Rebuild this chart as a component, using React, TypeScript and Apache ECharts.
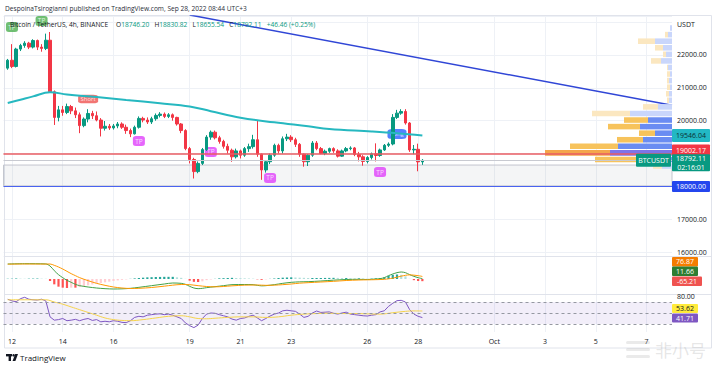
import React, { useEffect, useRef } from "react";
import * as echarts from "echarts";

const FONT = '"Open Sans", "Noto Sans", sans-serif';

// ---- categories: 4h slots (UTC+3) ----
const SLOT_COUNT = 159;
const firstSlotTime = Date.UTC(2022, 8, 11, 19);
const pad = (n: number) => String(n).padStart(2, "0");
const slots = Array.from({ length: SLOT_COUNT }, (_, s) => {
  const d = new Date(firstSlotTime + s * 4 * 3600 * 1000);
  return `${pad(d.getUTCMonth() + 1)}-${pad(d.getUTCDate())} ${pad(d.getUTCHours())}:00`;
});
const tickTimes = ["09-12 03:00", "09-14 03:00", "09-16 03:00", "09-19 03:00", "09-21 03:00", "09-23 03:00", "09-26 03:00", "09-28 03:00", "10-01 03:00", "10-03 03:00", "10-05 03:00", "10-07 03:00"];
const tickTexts = ["12", "14", "16", "19", "21", "23", "26", "28", "Oct", "3", "5", "7"];

// ---- candles [open, close, low, high], first candle = 09-11 23:00 (slot 1) ----
const candles: number[][] = [
  [21600, 21840, 21550, 21880], [21840, 21650, 21600, 22330], [21650, 22180, 21620, 22220], [22180, 22290, 22120, 22340],
  [22290, 22360, 22220, 22420], [22360, 22240, 22180, 22400], [22240, 22440, 22200, 22480], [22440, 22240, 22150, 22470],
  [22240, 22200, 22100, 22330], [22200, 22450, 22150, 22650], [22450, 20880, 20850, 22700], [20880, 20100, 19870, 20920],
  [20100, 20330, 19980, 20450], [20330, 20250, 20150, 20450], [20250, 20430, 20200, 20520], [20430, 20300, 20200, 20480],
  [20300, 20180, 20080, 20400], [20180, 19850, 19620, 20250], [19850, 20050, 19800, 20100], [20050, 20220, 19950, 20350],
  [20220, 20150, 20050, 20300], [20150, 20020, 19980, 20280], [20020, 19770, 19520, 20080], [19770, 19830, 19700, 19990],
  [19830, 19780, 19720, 19900], [19780, 19840, 19730, 19900], [19840, 19900, 19770, 19960], [19900, 19800, 19750, 19950],
  [19800, 19700, 19600, 19880], [19700, 19600, 19500, 19760], [19600, 19800, 19580, 19850], [19800, 20070, 19760, 20130],
  [20070, 20020, 19950, 20120], [20020, 19960, 19900, 20100], [19960, 20060, 19900, 20120], [20060, 20160, 20000, 20220],
  [20160, 20200, 20100, 20260], [20200, 20130, 20080, 20250], [20130, 20180, 20080, 20230], [20180, 20100, 20000, 20220],
  [20100, 19900, 19850, 20120], [19900, 19700, 19620, 19930], [19700, 19150, 19100, 19740], [19150, 18820, 18700, 19200],
  [18820, 18450, 18240, 18870], [18450, 18700, 18400, 18760], [18700, 19120, 18650, 19170], [19120, 19500, 19080, 19560],
  [19500, 19650, 19420, 19700], [19650, 19480, 19430, 19700], [19480, 19370, 19300, 19540], [19370, 19220, 19150, 19420],
  [19220, 19100, 19000, 19300], [19100, 18900, 18750, 19150], [18900, 19080, 18850, 19150], [19080, 18950, 18850, 19120],
  [18950, 19150, 18900, 19200], [19150, 19210, 19050, 19300], [19210, 19420, 19150, 19570], [19420, 18980, 18900, 20020],
  [18980, 18500, 18200, 19000], [18500, 18750, 18420, 18800], [18750, 18950, 18680, 19000], [18950, 19250, 18900, 19300],
  [19250, 19080, 19000, 19300], [19080, 19450, 19000, 19520], [19450, 19500, 19380, 19600], [19500, 19420, 19350, 19560],
  [19420, 19280, 19200, 19480], [19280, 18980, 18900, 19320], [18980, 18750, 18600, 19000], [18750, 18950, 18620, 18980],
  [18950, 19320, 18900, 19380], [19320, 19150, 19100, 19380], [19150, 19000, 18980, 19200], [19000, 19070, 18950, 19120],
  [19070, 19150, 19020, 19180], [19150, 19080, 19020, 19190], [19080, 18920, 18880, 19130], [18920, 19080, 18900, 19120],
  [19080, 19150, 19040, 19200], [19150, 19170, 19100, 19220], [19170, 18970, 18920, 19200], [18970, 18900, 18760, 19050],
  [18900, 18760, 18630, 18950], [18760, 18880, 18700, 18920], [18880, 18990, 18820, 19030], [18990, 18940, 18760, 19310],
  [18940, 19110, 18900, 19150], [19110, 19250, 19080, 19290], [19250, 19290, 19200, 19340], [19290, 20100, 19250, 20200],
  [20100, 20230, 20050, 20330], [20230, 20280, 20180, 20350], [20280, 19930, 19880, 20350], [19930, 19110, 19050, 19960],
  [19110, 19130, 18980, 19260], [19130, 18746.2, 18460, 19300], [18746.2, 18792.11, 18655.54, 18830.82],
];

// moving average (slot, value)
const maPoints = [[1, 20540], [4, 20640], [7, 20740], [11, 20865], [15, 20800], [22, 20720], [29, 20630], [37, 20530], [44, 20432], [49, 20290], [56, 20090], [64, 19950], [72, 19830], [77, 19750], [87, 19670], [93, 19615], [99, 19546.04]];
// trend line (slot, price)
const trendPoints = [[44, 23218], [158, 20471]];
// horizontal levels
const pocLevel = 19002.17;
const supportLevel = 18000;
const lastPrice = 18792.11;
const zoneTop = 18650;
const zoneBottom = 18015;

// volume profile rows
const VP_STEP = 200;
const vpLows = [18520, 18720, 18920, 19120, 19320, 19520, 19720, 19920, 20120, 20320, 20520, 20720, 20920, 21120, 21320, 21520, 21720, 21920, 22120, 22320, 22520, 22720];
const vpUp = [10, 35, 62, 54, 29, 17, 32, 24, 42, 14, 3, 3, 2, 3, 2, 4, 11, 6, 9, 17, 4, 2];
const vpDown = [9, 42, 65, 48, 26, 16, 32, 24, 38, 15, 2, 3, 3, 2, 3, 1, 10, 3, 8, 17, 3, 0];
const vpZone = [0, 1, 2, 1, 1, 1, 1, 1, 0, 0, 0, 0, 0, 0, 0, 0, 0, 0, 0, 0, 0, 0];

// MACD (slot, value)
const macdPoints = [[1, 450], [5, 460], [10, 452], [11, 390], [12, 250], [13, 130], [14, 40], [15, -40], [16, -100], [17, -160], [18, -200], [20, -240], [22, -270], [24, -290], [26, -300], [28, -295], [30, -280], [32, -250], [35, -200], [38, -150], [40, -120], [42, -130], [43, -160], [44, -220], [45, -270], [46, -290], [47, -280], [48, -260], [50, -230], [52, -200], [54, -170], [57, -165], [59, -170], [60, -190], [61, -205], [62, -200], [64, -170], [66, -130], [68, -100], [70, -85], [72, -80], [75, -60], [78, -35], [81, -15], [84, -10], [86, -15], [88, 0], [89, 10], [90, 40], [91, 100], [92, 150], [93, 190], [94, 210], [95, 190], [96, 130], [97, 80], [98, 40], [99, 11.66]];
const signalPoints = [[1, 445], [5, 450], [10, 448], [11, 450], [12, 410], [13, 360], [14, 300], [15, 230], [16, 160], [17, 100], [18, 40], [20, -50], [22, -130], [24, -190], [26, -240], [28, -270], [30, -285], [32, -280], [35, -255], [38, -215], [40, -185], [42, -165], [44, -170], [46, -200], [48, -225], [50, -235], [52, -225], [54, -205], [57, -185], [60, -180], [62, -190], [64, -185], [66, -170], [68, -150], [70, -125], [72, -110], [75, -90], [78, -70], [81, -45], [84, -30], [86, -25], [88, -20], [90, -10], [91, 5], [92, 25], [93, 55], [94, 85], [95, 110], [96, 125], [97, 115], [98, 100], [99, 76.87]];
// histogram, slots 1..99
const histValues = [8, 10, 12, 10, 8, 10, 12, 14, 10, 6, -60, -160, -230, -260, -270, -260, -260, -240, -215, -190, -165, -140, -120, -100, -80, -60, -42, -25, -12, 5, 18, 30, 40, 50, 55, 60, 62, 65, 65, 65, 50, 35, 5, -50, -85, -90, -70, -35, -15, 5, 20, 25, 30, 35, 30, 25, 20, 15, 10, -10, -25, -10, 5, 15, 30, 40, 45, 50, 45, 40, 35, 30, 30, 30, 30, 32, 33, 35, 33, 30, 30, 25, 20, 20, 15, 10, 12, 20, 25, 50, 95, 125, 135, 125, 80, 5, -35, -60, -65.21];

// RSI (slot, value)
const rsiPoints = [[1, 75], [2, 72], [3, 70.5], [4, 76], [5, 78.5], [6, 75], [7, 74], [8, 73.5], [9, 75], [10, 72], [11, 43], [12, 37], [13, 38], [14, 40], [15, 36], [16, 37], [17, 38.5], [18, 36], [19, 38.5], [20, 40], [21, 36.5], [22, 38], [23, 34], [24, 35], [25, 34], [26, 36], [27, 35], [28, 33], [29, 32.5], [30, 36], [31, 42], [32, 44], [33, 43], [34, 46], [35, 47], [36, 48], [37, 48.5], [38, 47], [39, 48], [40, 46], [41, 43], [42, 40], [43, 32], [44, 27], [45, 23.5], [46, 28], [47, 40], [48, 48], [49, 50], [50, 49.5], [51, 47], [52, 45], [53, 43], [54, 39], [55, 37], [56, 40], [57, 41], [58, 44], [59, 46], [60, 41], [61, 36], [62, 40], [63, 44.5], [64, 48], [65, 50], [66, 54], [67, 55], [68, 54], [69, 53], [70, 48], [71, 42], [72, 44], [73, 50], [74, 53.6], [75, 51], [76, 51.5], [77, 52], [78, 49.5], [79, 48], [80, 50], [81, 51.5], [82, 48], [83, 47], [84, 46], [85, 45], [86, 44.5], [87, 46], [88, 47], [89, 52], [90, 54], [91, 62], [92, 67.6], [93, 72.4], [94, 73], [95, 70], [96, 56], [97, 48], [98, 44], [99, 41.71]];
const rsiMaPoints = [[1, 74], [10, 74], [12, 70], [14, 66], [16, 61], [18, 56], [20, 51], [22, 46], [24, 41], [26, 38], [28, 36.5], [30, 36], [33, 38], [36, 41], [39, 44], [42, 45], [44, 43], [46, 40], [48, 39.5], [50, 40.5], [53, 42], [56, 43], [59, 43], [62, 42], [65, 43], [68, 46], [71, 48], [74, 49], [77, 49.5], [80, 49], [83, 49], [86, 48.5], [89, 48], [92, 50.5], [95, 53], [97, 53.8], [99, 53.62]];

// strategy badges
const badgeSlots = [2, 9, 20, 32, 49, 63, 89, 93];
const badgePrices = [22850, 23035, 20660, 19380, 19047, 18256, 18438, 19595];
const badgeTexts = ["TP", "TP", "Short", "TP", "TP", "TP", "TP", "Long"];
const badgeKinds = ["tpLong", "tpLong", "short", "tpShort", "tpShort", "tpShort", "tpShort", "long"];

const UP = "#089981";
const DOWN = "#f23645";

export default function App() {
  const ref = useRef<HTMLDivElement>(null);
  useEffect(() => {
    const chart = echarts.init(ref.current!, null, { renderer: "svg" });
    const isTick = (i: number) => tickTimes.indexOf(slots[i]) >= 0;
    const gridLeft = 3.5;
    const gridRight = 46;
    const splitColor = "#eef1f6";
    const catAxis = (gridIndex: number, showLabel: boolean) => ({
      type: "category",
      gridIndex,
      data: slots,
      boundaryGap: false,
      axisLine: { show: false },
      axisTick: { show: false },
      axisLabel: {
        show: showLabel,
        interval: (i: number) => isTick(i),
        formatter: (v: string) => tickTexts[tickTimes.indexOf(v)] ?? "",
        color: "#131722",
        fontSize: 7,
        fontFamily: FONT,
        margin: 6,
      },
      splitLine: { show: true, interval: (i: number) => isTick(i), lineStyle: { color: splitColor, width: 1 } },
    });

    const vpColors = [
      ["#c9d6fb", "#fbe7c0"],
      ["#6a8cf2", "#f7c35c"],
      ["#7d74e8", "#f4a64c"],
    ];

    const shown = [16000, 17000, 20000, 21000, 22000];
    const option: any = {
      animation: false,
      backgroundColor: "#ffffff",
      grid: [
        { left: gridLeft, right: gridRight, top: 16, height: 240 },
        { left: gridLeft, right: gridRight, top: 256, height: 38 },
        { left: gridLeft, right: gridRight, top: 294, height: 38 },
      ],
      xAxis: [
        catAxis(0, false),
        catAxis(1, false),
        catAxis(2, true),
        { type: "value", gridIndex: 0, inverse: true, min: 0, max: 668.5, show: false },
      ],
      yAxis: [
        {
          type: "value", gridIndex: 0, position: "right", min: 15881, max: 23187, splitNumber: 7,
          axisLine: { show: false }, axisTick: { show: false },
          axisLabel: {
            color: "#131722", fontSize: 7, fontFamily: FONT, margin: 5,
            showMinLabel: false, showMaxLabel: false,
            formatter: (v: number) => (shown.indexOf(v) >= 0 ? v.toFixed(2) : ""),
          },
          splitLine: { show: true, lineStyle: { color: splitColor } },
        },
        { type: "value", gridIndex: 1, position: "right", min: -450, max: 690, axisLabel: { show: false }, axisLine: { show: false }, axisTick: { show: false }, splitLine: { show: false } },
        {
          type: "value", gridIndex: 2, position: "right", min: 15.5, max: 84.5, splitNumber: 3,
          axisLine: { show: false }, axisTick: { show: false },
          axisLabel: { color: "#131722", fontSize: 7, fontFamily: FONT, margin: 5, showMinLabel: false, showMaxLabel: false, formatter: (v: number) => (v === 80 ? "80.00" : "") },
          splitLine: { show: false },
        },
      ],
      series: [
        {
          type: "scatter", xAxisIndex: 0, yAxisIndex: 0, z: 1, silent: true,
          symbol: "roundRect",
          data: badgeSlots.map((s, i) => {
            const kind = badgeKinds[i];
            const color = kind === "tpLong" ? "#4caf50" : kind === "tpShort" ? "#e040fb" : kind === "short" ? "#ef5350" : "#2962ff";
            const size = kind === "short" ? [20, 8.5] : kind === "long" ? [19, 10] : [12, 10];
            return {
              value: [s, badgePrices[i]],
              symbolSize: size,
              itemStyle: { color },
              label: { show: true, position: "inside", formatter: badgeTexts[i], color: "#ffffff", fontSize: kind === "short" || kind === "long" ? 6 : 6.5, fontFamily: FONT },
            };
          }),
        },
        {
          type: "candlestick", xAxisIndex: 0, yAxisIndex: 0, barWidth: 3, z: 2,
          encode: { x: 0, y: [1, 2, 3, 4] },
          data: candles.map((c, k) => [k + 1, c[0], c[1], c[2], c[3]]),
          itemStyle: { color: UP, color0: DOWN, borderColor: UP, borderColor0: DOWN, borderWidth: 1 },
          markArea: {
            silent: true,
            itemStyle: { color: "rgba(120,123,134,0.08)", borderColor: "#c3c6ce", borderWidth: 1 },
            data: [[{ yAxis: zoneTop }, { yAxis: zoneBottom }]],
          },
          markLine: {
            silent: true, symbol: "none", label: { show: false },
            data: [
              { yAxis: pocLevel, lineStyle: { color: "#e95c63", width: 1.5, type: "solid" } },
              { yAxis: supportLevel, lineStyle: { color: "#4a63f0", width: 1, type: "solid" } },
              { yAxis: lastPrice, lineStyle: { color: "#c8cad1", width: 1, type: "solid" } },
            ],
          },
        },
        {
          type: "line", xAxisIndex: 0, yAxisIndex: 0, data: maPoints, smooth: 0.4, showSymbol: false, silent: true,
          lineStyle: { color: "#26b8c0", width: 2 }, z: 3,
        },
        {
          type: "line", xAxisIndex: 0, yAxisIndex: 0, data: trendPoints, showSymbol: false, silent: true,
          lineStyle: { color: "#3046d6", width: 1.5 }, z: 3,
        },
        {
          type: "custom", xAxisIndex: 3, yAxisIndex: 0, z: 4, silent: true,
          encode: { x: [1, 2], y: 0 },
          data: vpLows.map((lo, i) => [lo, vpUp[i], vpDown[i], vpZone[i]]),
          renderItem: (_p: any, api: any) => {
            const lo = api.value(0);
            const up = api.value(1);
            const dn = api.value(2);
            const zone = api.value(3);
            const p0 = api.coord([0, lo + VP_STEP]);
            const p1 = api.coord([up, lo]);
            const p2 = api.coord([up + dn, lo]);
            const top = p0[1] + 0.5;
            const h = p1[1] - p0[1] - 1;
            const [cu, cd] = vpColors[zone];
            return {
              type: "group",
              children: [
                { type: "rect", shape: { x: p1[0], y: top, width: p0[0] - p1[0], height: h }, style: { fill: cu } },
                { type: "rect", shape: { x: p2[0], y: top, width: p1[0] - p2[0], height: h }, style: { fill: cd } },
              ],
            };
          },
        },
        {
          type: "bar", xAxisIndex: 1, yAxisIndex: 1, barWidth: 2.2, silent: true,
          data: histValues.map((v, i) => {
            const prev = i > 0 ? histValues[i - 1] : v;
            const color = v >= 0 ? (v >= prev ? "#26a69a" : "#b2dfdb") : (v <= prev ? "#ff5252" : "#ffcdd2");
            return { value: [i + 1, v], itemStyle: { color } };
          }),
        },
        { type: "line", xAxisIndex: 1, yAxisIndex: 1, data: macdPoints, smooth: 0.3, showSymbol: false, silent: true, lineStyle: { color: "#43a047", width: 1 } },
        { type: "line", xAxisIndex: 1, yAxisIndex: 1, data: signalPoints, smooth: 0.3, showSymbol: false, silent: true, lineStyle: { color: "#ff9800", width: 1 } },
        {
          type: "line", xAxisIndex: 2, yAxisIndex: 2, data: rsiPoints, showSymbol: false, silent: true, lineStyle: { color: "#7e57c2", width: 1 },
          markArea: { silent: true, itemStyle: { color: "rgba(126,87,194,0.1)" }, data: [[{ yAxis: 70 }, { yAxis: 30 }]] },
          markLine: {
            silent: true, symbol: "none", label: { show: false },
            lineStyle: { color: "#9598a1", type: [3, 3], width: 1 },
            data: [{ yAxis: 70 }, { yAxis: 50 }, { yAxis: 30 }],
          },
        },
        { type: "line", xAxisIndex: 2, yAxisIndex: 2, data: rsiMaPoints, smooth: 0.4, showSymbol: false, silent: true, lineStyle: { color: "#f5d34a", width: 1 } },
      ],
    };
    chart.setOption(option);

    const yPx = (v: number) => chart.convertToPixel({ yAxisIndex: 0 }, v) as number;
    const Z = 50;
    const txt = (x: number, y: number, text: string, fill: string, size = 7, align = "left", extra: any = {}) => ({
      type: "text", x, y, silent: true, z: Z,
      style: { text, fill, font: `${size}px ${FONT}`, align, verticalAlign: "middle", ...extra },
    });
    const tag = (x: number, y: number, w: number, h: number, bg: string, lines: string[], fg: string) => ({
      type: "group", silent: true,
      children: [
        { type: "rect", z: Z, shape: { x, y, width: w, height: h, r: 1 }, style: { fill: bg } },
        ...lines.map((t, i) => ({
          type: "text", z: Z + 1, x: x + w / 2, y: y + (h / lines.length) * (i + 0.5),
          style: { text: t, fill: fg, font: `7px ${FONT}`, align: "center", verticalAlign: "middle" },
        })),
      ],
    });

    const axisX = 672;
    const yMa = yPx(19546.04);
    const yPoc = yPx(pocLevel);
    const yLast = yPx(lastPrice);
    const ySup = yPx(supportLevel);

    const elements: any[] = [
      { type: "rect", silent: true, z: 0, shape: { x: 4.5, y: 15.5, width: 707, height: 332.5 }, style: { fill: "none", stroke: "#e0e3eb", lineWidth: 1 } },
      { type: "line", silent: true, z: 0, shape: { x1: 4.5, y1: 256.5, x2: 711.5, y2: 256.5 }, style: { stroke: "#e0e3eb", lineWidth: 1 } },
      { type: "line", silent: true, z: 0, shape: { x1: 4.5, y1: 294.5, x2: 711.5, y2: 294.5 }, style: { stroke: "#e0e3eb", lineWidth: 1 } },
      txt(5, 8, "DespoinaTsirogianni published on TradingView.com, Sep 28, 2022 08:44 UTC+3", "#2a2e39", 6.6),
      txt(10, 24, "Bitcoin / TetherUS, 4h, BINANCE", "#131722", 6.6),
      {
        type: "text", x: 116, y: 24, silent: true, z: Z,
        style: {
          text: "{a|O}{b|18746.20}   {a|H}{b|18830.82}   {a|L}{b|18655.54}   {a|C}{b|18792.11}   {b|+46.46 (+0.25%)}",
          font: `6.6px ${FONT}`, verticalAlign: "middle", align: "left",
          rich: { a: { fill: "#131722", font: `6.6px ${FONT}` }, b: { fill: UP, font: `6.6px ${FONT}` } },
        },
      },
      txt(677, 24, "USDT", "#131722", 7),
      tag(axisX, yMa - 6.5, 38, 13, "#22b8c4", ["19546.04"], "#0b2f33"),
      tag(axisX, yPoc - 9, 38, 12, DOWN, ["19002.17"], "#ffffff"),
      tag(axisX, yLast - 6, 38, 17, UP, ["18792.11", "02:16:01"], "#ffffff"),
      tag(636, yLast - 6.5, 35, 13, UP, ["BTCUSDT"], "#ffffff"),
      tag(axisX, ySup - 5.5, 38, 11, "#2446ee", ["18000.00"], "#ffffff"),
      tag(axisX, 257, 26, 9.5, "#f57c00", ["76.87"], "#ffffff"),
      tag(axisX, 266.5, 26, 9.5, "#2e7d32", ["11.66"], "#ffffff"),
      tag(axisX, 276.5, 30, 9.5, "#ef5350", ["-65.21"], "#ffffff"),
      tag(axisX, 304, 26, 9, "#ffeb3b", ["53.62"], "#131722"),
      tag(axisX, 313.5, 26, 9, "#7e57c2", ["41.71"], "#ffffff"),
      // TradingView logo
      { type: "rect", silent: true, z: Z, shape: { x: 6, y: 354, width: 6, height: 2.4 }, style: { fill: "#131722" } },
      { type: "rect", silent: true, z: Z, shape: { x: 8.6, y: 354, width: 2.4, height: 7 }, style: { fill: "#131722" } },
      { type: "circle", silent: true, z: Z, shape: { cx: 13.6, cy: 355.3, r: 1.3 }, style: { fill: "#131722" } },
      { type: "polygon", silent: true, z: Z, shape: { points: [[15.2, 354], [18, 354], [15.4, 361], [12.6, 361]] }, style: { fill: "#131722" } },
      txt(20, 357.5, "TradingView", "#131722", 8),
      // watermark
      { type: "rect", silent: true, z: Z, shape: { x: 626, y: 341, width: 24, height: 3, r: 1.5 }, style: { fill: "rgba(170,170,170,0.25)" } },
      { type: "rect", silent: true, z: Z, shape: { x: 626, y: 348, width: 24, height: 3, r: 1.5 }, style: { fill: "rgba(170,170,170,0.25)" } },
      { type: "rect", silent: true, z: Z, shape: { x: 626, y: 355, width: 24, height: 3, r: 1.5 }, style: { fill: "rgba(170,170,170,0.25)" } },
      txt(655, 349, "非小号", "rgba(170,170,170,0.3)", 17, "left", { font: `17px "Noto Sans CJK SC", sans-serif` }),
    ];
    chart.setOption({ graphic: { elements } });
    return () => chart.dispose();
  }, []);
  return <div ref={ref} style={{ position: "absolute", left: 0, top: 0, width: 718, height: 369 }} />;
}
